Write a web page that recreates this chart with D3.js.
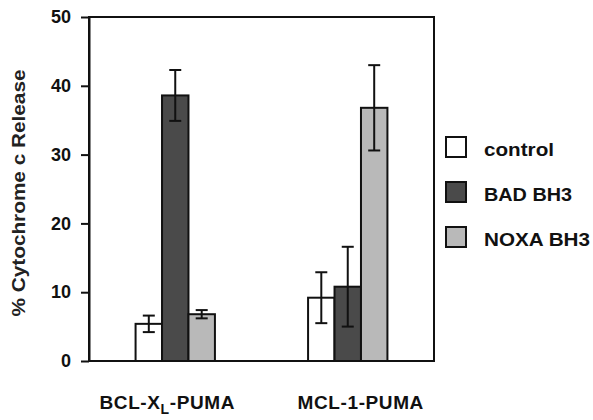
<!DOCTYPE html>
<html><head><meta charset="utf-8">
<script src="https://cdn.jsdelivr.net/npm/d3@7"></script>
<style>body{margin:0;background:#fff}svg{display:block}text{font-family:"Liberation Sans",Arial,sans-serif;}</style>
</head><body>
<svg id="c" width="593" height="420"></svg>
<script>
const categories = ["BCL-X_L-PUMA", "MCL-1-PUMA"];
const seriesNames = ["control", "BAD BH3", "NOXA BH3"];
const controlVals = [5.4, 9.2];
const controlErr = [1.2, 3.7];
const badVals = [38.6, 10.8];
const badErr = [3.7, 5.8];
const noxaVals = [6.8, 36.8];
const noxaErr = [0.6, 6.2];
const yTicks = [0, 10, 20, 30, 40, 50];
const yTitle = "% Cytochrome c Release";

const colors = {"control": "#ffffff", "BAD BH3": "#4a4a4a", "NOXA BH3": "#b9b9b9"};
const values = {"control": controlVals, "BAD BH3": badVals, "NOXA BH3": noxaVals};
const errs = {"control": controlErr, "BAD BH3": badErr, "NOXA BH3": noxaErr};

const svg = d3.select("#c");
const L = 89, R = 434, T = 17, B = 361;

const x = d3.scaleBand().domain(categories).range([L, R]).paddingInner(0.54).paddingOuter(0.27);
const xi = d3.scaleBand().domain(seriesNames).range([0, x.bandwidth()]);
const y = d3.scaleLinear().domain([0, 50]).range([B, T]);

// frame
svg.append("rect").attr("x", L).attr("y", T).attr("width", R - L).attr("height", B - T)
  .attr("fill", "none").attr("stroke", "#111").attr("stroke-width", 2);

// y axis
const ya = svg.append("g").attr("transform", `translate(${L},0)`)
  .call(d3.axisLeft(y).tickValues(yTicks).tickSize(8).tickPadding(10).tickSizeOuter(0));
ya.select(".domain").attr("stroke", "#111").attr("stroke-width", 2);
ya.selectAll(".tick line").attr("stroke", "#111").attr("stroke-width", 2);
ya.selectAll(".tick text").attr("font-size", 18).attr("font-weight", "bold").attr("fill", "#111")
  .attr("font-family", "'Liberation Sans', Arial, sans-serif");

// bars
const rows = [];
categories.forEach((c, i) => seriesNames.forEach(s => rows.push({c, s, v: values[s][i], e: errs[s][i]})));

const g = svg.append("g");
g.selectAll("rect.bar").data(rows).join("rect").attr("class", "bar")
  .attr("x", d => x(d.c) + xi(d.s))
  .attr("y", d => y(d.v))
  .attr("width", xi.bandwidth())
  .attr("height", d => y(0) - y(d.v))
  .attr("fill", d => colors[d.s]).attr("stroke", "#111").attr("stroke-width", 2);

// error bars
const eb = g.selectAll("g.err").data(rows).join("g").attr("class", "err")
  .attr("transform", d => `translate(${x(d.c) + xi(d.s) + xi.bandwidth() / 2},0)`);
eb.append("line").attr("x1", 0).attr("x2", 0).attr("y1", d => y(d.v + d.e)).attr("y2", d => y(d.v - d.e))
  .attr("stroke", "#111").attr("stroke-width", 2);
eb.append("line").attr("x1", -6).attr("x2", 6).attr("y1", d => y(d.v + d.e)).attr("y2", d => y(d.v + d.e))
  .attr("stroke", "#111").attr("stroke-width", 2);
eb.append("line").attr("x1", -6).attr("x2", 6).attr("y1", d => y(d.v - d.e)).attr("y2", d => y(d.v - d.e))
  .attr("stroke", "#111").attr("stroke-width", 2);

// x labels
const dxs = [-8, 13];
categories.forEach((c, i) => {
  const t = svg.append("text").attr("x", x(c) + x.bandwidth() / 2 + dxs[i]).attr("y", 409)
    .attr("text-anchor", "middle").attr("font-size", 19).attr("font-weight", "bold")
    .attr("letter-spacing", 0.6).attr("fill", "#111");
  const parts = c.split("_");
  if (parts.length === 2) {
    t.append("tspan").text(parts[0]);
    t.append("tspan").attr("font-size", 14).attr("dy", 5).text(parts[1].slice(0, 1));
    t.append("tspan").attr("dy", -5).text(parts[1].slice(1));
  } else {
    t.text(c);
  }
});

// y title
svg.append("text").attr("transform", "translate(25,193) rotate(-90)")
  .attr("text-anchor", "middle").attr("font-size", 18).attr("font-weight", "bold").attr("fill", "#222")
  .attr("textLength", 247).attr("lengthAdjust", "spacingAndGlyphs").text(yTitle);

// legend
const legendWidths = [70, 88, 106];
const lg = svg.append("g").selectAll("g").data(seriesNames).join("g")
  .attr("transform", (d, i) => `translate(446,${137 + i * 45})`);
lg.append("rect").attr("width", 20).attr("height", 20).attr("fill", d => colors[d])
  .attr("stroke", "#111").attr("stroke-width", 2);
lg.append("text").attr("x", 38).attr("y", 19).attr("font-size", 18).attr("font-weight", "bold")
  .attr("fill", "#111").attr("textLength", (d, i) => legendWidths[i]).attr("lengthAdjust", "spacingAndGlyphs")
  .text(d => d);
</script>
</body></html>
